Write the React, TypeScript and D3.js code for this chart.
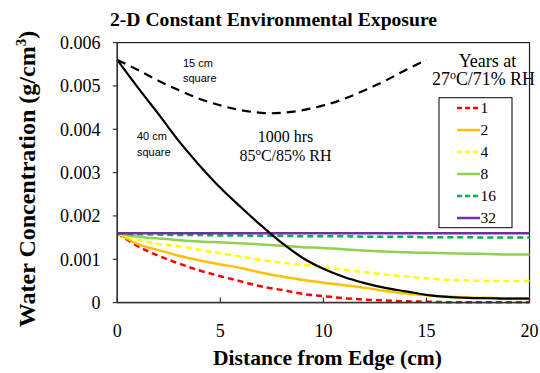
import React from "react";
import * as d3 from "d3";

const distance = [0,1,2,3,4,5,6,7,8,9,10,11,12,13,14,15,16,17,18,19,20];
const yr1 = [0.0016,0.0013,0.00108,0.0009,0.00074,0.00061,0.00049,0.00037,0.00029,0.0002,0.00015,0.0001,0.00007,0.00005,0.00003,0.00002,0.00001,0.00001,0.00001,0.00001,0.00001];
const yr2 = [0.0016,0.00135,0.00121,0.00108,0.00097,0.00088,0.0008,0.00069,0.0006,0.00052,0.00046,0.0004,0.00034,0.00027,0.00021,0.00017,0.00014,0.00012,0.00011,0.0001,0.0001];
const yr4 = [0.0016,0.00145,0.00135,0.0013,0.00122,0.00114,0.00106,0.00098,0.00092,0.00087,0.00082,0.00076,0.0007,0.00065,0.0006,0.00056,0.00053,0.00051,0.0005,0.0005,0.0005];
const yr8 = [0.0016,0.00152,0.00148,0.00144,0.00141,0.00139,0.00137,0.00134,0.00131,0.00128,0.00126,0.00123,0.0012,0.00118,0.00116,0.00115,0.00114,0.00113,0.00112,0.00111,0.00111];
const yr16 = [0.0016,0.00158,0.00157,0.00156,0.00156,0.00155,0.00155,0.00154,0.00154,0.00153,0.00153,0.00153,0.00152,0.00152,0.00152,0.00151,0.00151,0.00151,0.0015,0.0015,0.0015];
const yr32 = [0.0016,0.0016,0.0016,0.0016,0.0016,0.0016,0.0016,0.0016,0.0016,0.0016,0.0016,0.0016,0.0016,0.0016,0.0016,0.0016,0.0016,0.0016,0.0016,0.0016,0.0016];
const sq40 = [0.0056,0.00496,0.00435,0.00372,0.00316,0.00265,0.00220,0.00177,0.00137,0.00103,0.00078,0.00059,0.00045,0.00034,0.00026,0.00018,0.00013,0.00011,0.0001,0.00009,0.00009];
const distance15 = [0,1,2,3,4,5,6,7,7.5,8,9,10,11,12,13,14,15];
const sq15 = [0.0056,0.00537,0.00512,0.0049,0.0047,0.00455,0.00444,0.00438,0.00437,0.00438,0.00444,0.00455,0.0047,0.0049,0.00512,0.00537,0.0056];

const legendLabels = ["1","2","4","8","16","32"];
const xTicks = [0,5,10,15,20];
const yTicks = [0,0.001,0.002,0.003,0.004,0.005,0.006];
const yTickLabels = ["0","0.001","0.002","0.003","0.004","0.005","0.006"];

const series = [
  { name: "1", values: yr1, color: "#FF0000", dash: "6,4" },
  { name: "2", values: yr2, color: "#FFC000", dash: "" },
  { name: "4", values: yr4, color: "#FFFF00", dash: "6,4" },
  { name: "8", values: yr8, color: "#92D050", dash: "" },
  { name: "16", values: yr16, color: "#00B050", dash: "6,4" },
  { name: "32", values: yr32, color: "#7030A0", dash: "" },
];

export default function App() {
  const left = 117.3, right = 529.5, top = 42.6, bottom = 302.6;
  const x = d3.scaleLinear().domain([0, 20]).range([left, right]);
  const y = d3.scaleLinear().domain([0, 0.006]).range([bottom, top]);
  const line = (xs: number[], vs: number[]) =>
    d3.line<number>().x((_, i) => x(xs[i])).y((v) => y(v)).curve(d3.curveMonotoneX)(vs) || "";
  const serif = "'Liberation Serif', 'Times New Roman', serif";
  const sans = "'Liberation Sans', Arial, sans-serif";
  return (
    <svg width={540} height={373} style={{ position: "absolute", left: 0, top: 0, background: "#fff" }} fontFamily={serif}>
      <rect x={0} y={0} width={540} height={373} fill="#fff" />
      <text x={110} y={26} fontSize={18.5} fontWeight="bold" textLength={327} lengthAdjust="spacingAndGlyphs">2-D Constant Environmental Exposure</text>
      {/* frame */}
      <rect x={left} y={top} width={right - left} height={bottom - top} fill="none" stroke="#222" strokeWidth={1.2} />
      {/* series */}
      {series.map((s) => (
        <path key={s.name} d={line(distance, s.values)} fill="none" stroke={s.color} strokeWidth={2.5} strokeDasharray={s.dash} />
      ))}
      <path d={line(distance, sq40)} fill="none" stroke="#000" strokeWidth={2.2} />
      <path d={line(distance15, sq15)} fill="none" stroke="#000" strokeWidth={2.2} strokeDasharray="9,6" />
      {/* axes */}
      <line x1={left} x2={left} y1={top} y2={bottom} stroke="#333" strokeWidth={1.5} />
      <line x1={left} x2={right} y1={bottom} y2={bottom} stroke="#333" strokeWidth={1.5} />
      {yTicks.map((t, i) => (
        <g key={"y" + i}>
          <line x1={left - 4.5} x2={left} y1={y(t)} y2={y(t)} stroke="#333" strokeWidth={1.2} />
          <text x={100.5} y={y(t)} dy="0.35em" textAnchor="end" fontSize={18}>{yTickLabels[i]}</text>
        </g>
      ))}
      {xTicks.map((t) => (
        <g key={"x" + t}>
          <line x1={x(t)} x2={x(t)} y1={bottom} y2={bottom - 5} stroke="#333" strokeWidth={1.2} />
          <text x={x(t)} y={337} textAnchor="middle" fontSize={18}>{t}</text>
        </g>
      ))}
      <text x={327.5} y={365} textAnchor="middle" fontSize={21} fontWeight="bold" textLength={229} lengthAdjust="spacingAndGlyphs">Distance from Edge (cm)</text>
      <text transform="translate(35,179) rotate(-90)" textAnchor="middle" fontSize={24} fontWeight="bold">
        Water Concentration (g/cm<tspan dy={-9} fontSize={15}>3</tspan><tspan dy={9}>)</tspan>
      </text>
      {/* annotations */}
      <text x={183} y={66.5} fontFamily={sans} fontSize={11}>15 cm</text>
      <text x={183} y={82} fontFamily={sans} fontSize={11}>square</text>
      <text x={137} y={140} fontFamily={sans} fontSize={11}>40 cm</text>
      <text x={137} y={156} fontFamily={sans} fontSize={11}>square</text>
      <text x={285.5} y={142} textAnchor="middle" fontSize={16}>1000 hrs</text>
      <text x={285.5} y={161} textAnchor="middle" fontSize={16}>85<tspan dy={-6} fontSize={11}>o</tspan><tspan dy={6}>C/85% RH</tspan></text>
      <text x={487.5} y={66.5} textAnchor="middle" fontSize={18}>Years at</text>
      <text x={483.5} y={85} textAnchor="middle" fontSize={18} textLength={103} lengthAdjust="spacingAndGlyphs">27<tspan dy={-6} fontSize={12}>o</tspan><tspan dy={6}>C/71% RH</tspan></text>
      {/* legend */}
      <rect x={439} y={97.7} width={73} height={130} fill="#fff" stroke="#000" strokeWidth={1} />
      {series.map((s, i) => (
        <g key={"l" + s.name}>
          <line x1={457} x2={480} y1={108 + i * 22} y2={108 + i * 22} stroke={s.color} strokeWidth={2.5} strokeDasharray={s.dash ? "5,3" : ""} />
          <text x={480.5} y={108 + i * 22} dy="0.35em" fontSize={15.5}>{legendLabels[i]}</text>
        </g>
      ))}
    </svg>
  );
}
